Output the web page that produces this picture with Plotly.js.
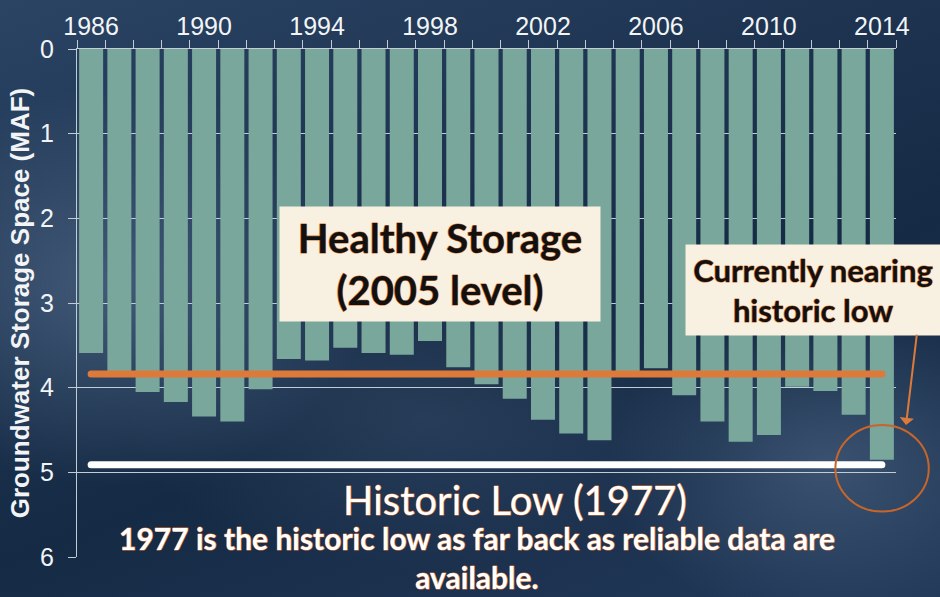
<!DOCTYPE html>
<html>
<head>
<meta charset="utf-8">
<script src="https://cdn.plot.ly/plotly-3.0.1.min.js"></script>
<style>
  html, body { margin: 0; padding: 0; }
  body {
    width: 940px; height: 597px; overflow: hidden;
    background:
      radial-gradient(ellipse 260px 200px at 12% 48%, rgba(95,122,152,0.55), rgba(95,122,152,0) 100%),
      radial-gradient(ellipse 220px 160px at 88% 78%, rgba(95,122,152,0.45), rgba(95,122,152,0) 100%),
      radial-gradient(ellipse 300px 150px at 45% 70%, rgba(70,95,125,0.35), rgba(70,95,125,0) 100%),
      linear-gradient(160deg, #2b4464 0%, #1d3350 35%, #152a44 60%, #22395a 100%);
  }
  #chart { width: 940px; height: 597px; }
  .annotation-text { paint-order: stroke fill; stroke: #d9742f; stroke-width: 1.1px; stroke-linejoin: round; }
  .scatterlayer .js-line { stroke-linecap: round; }
</style>
</head>
<body>
<div id="chart"></div>
<script>
// ---- data ----
const years = ["1986","1987","1988","1989","1990","1991","1992","1993","1994","1995",
               "1996","1997","1998","1999","2000","2001","2002","2003","2004","2005",
               "2006","2007","2008","2009","2010","2011","2012","2013","2014"];
const storageSpace = [3.59, 3.87, 4.05, 4.17, 4.34, 4.40, 4.02, 3.66, 3.68, 3.53,
                      3.59, 3.61, 3.45, 3.76, 3.96, 4.13, 4.38, 4.54, 4.62, 3.86,
                      3.77, 4.09, 4.40, 4.64, 4.56, 3.99, 4.04, 4.32, 4.85];
const labeledYears = ["1986","1990","1994","1998","2002","2006","2010","2014"];
const healthyLevel = 3.84;   // 2005 level
const historicLow = 4.91;    // 1977 level
const lineSpan = ["1986", "2014"];

const barColor = "#7aa79b";
const orange = "#dd7a3a";
const axisGrey = "#c3ccd5";

const tickText = years.map(y => labeledYears.includes(y) ? y : "");

const traces = [
  {
    type: "bar", x: years, y: storageSpace, base: 0,
    marker: { color: barColor },
    hoverinfo: "x+y", showlegend: false
  },
  {
    type: "scatter", mode: "lines", x: lineSpan, y: [healthyLevel, healthyLevel],
    line: { color: orange, width: 7 }, showlegend: false, hoverinfo: "skip"
  },
  {
    type: "scatter", mode: "lines", x: lineSpan, y: [historicLow, historicLow],
    line: { color: "#ffffff", width: 7 }, showlegend: false, hoverinfo: "skip"
  }
];

const layout = {
  width: 940, height: 597,
  margin: { l: 77, r: 44, t: 49, b: 40 },
  paper_bgcolor: "rgba(0,0,0,0)",
  plot_bgcolor: "rgba(0,0,0,0)",
  bargap: 0.15,
  showlegend: false,
  font: { family: "Liberation Sans, Arial, sans-serif", color: "#f2f4f6" },
  xaxis: {
    type: "category", side: "top",
    tickmode: "array", tickvals: years, ticktext: tickText,
    tickson: "boundaries", ticks: "outside", ticklen: 8, tickcolor: axisGrey, tickwidth: 1,
    tickangle: 0,
    showline: true, linecolor: axisGrey, linewidth: 1,
    showgrid: false, zeroline: false,
    tickfont: { size: 25, color: "#f2f4f6" },
    ticklabelstandoff: 3,
    range: [-0.5, 28.5], fixedrange: true
  },
  yaxis: {
    range: [6, 0], dtick: 1, tick0: 0,
    ticks: "outside", ticklen: 8, tickcolor: axisGrey,
    showline: true, linecolor: axisGrey, linewidth: 1,
    showgrid: true, gridcolor: axisGrey, gridwidth: 1,
    zeroline: false,
    tickfont: { size: 25, color: "#f2f4f6" },
    ticklabelstandoff: 9,
    title: { text: "Groundwater Storage Space (MAF)", font: { size: 26, color: "#f2f4f6", family: "Liberation Sans, Arial, sans-serif", weight: "bold" }, standoff: 2 },
    fixedrange: true
  },
  shapes: [
    { type: "circle", xref: "paper", yref: "paper",
      x0: 0.926, x1: 1.040, y0: 0.0894, y1: 0.2598,
      line: { color: "#c8652a", width: 2 } }
  ],
  annotations: [
    { xref: "paper", yref: "paper", x: 0.4432, y: 0.5768, xanchor: "center", yanchor: "middle",
      text: "<b>Healthy Storage<br>(2005 level)</b>", showarrow: false,
      font: { family: "Lato, sans-serif", size: 40, color: "#111111" },
      bgcolor: "#f8f0e0", width: 320, height: 114, borderpad: 0, align: "center" },
    { xref: "paper", yref: "paper", x: 0.8987, y: 0.5256, xanchor: "center", yanchor: "middle",
      text: "<b>Currently nearing<br>historic low</b>", showarrow: false,
      font: { family: "Lato, sans-serif", size: 31, color: "#111111" },
      bgcolor: "#f8f0e0", width: 254, height: 90, borderpad: 0, align: "center" },
    { xref: "paper", yref: "paper", x: 0.5348, y: 0.1122, xanchor: "center", yanchor: "middle",
      text: "Historic Low (1977)", showarrow: false,
      font: { family: "Lato, sans-serif", size: 40, color: "#ffffff" } },
    { xref: "paper", yref: "paper", x: 0.4884, y: 0.0, xanchor: "center", yanchor: "middle",
      text: "<b>1977 is the historic low as far back as reliable data are<br>available.</b>", showarrow: false,
      font: { family: "Lato, sans-serif", size: 30, color: "#ffffff" }, align: "center" },
    { xref: "paper", yref: "paper", x: 1.0122, y: 0.2598, text: "", showarrow: true,
      ax: 11, ay: -92, arrowcolor: orange, arrowwidth: 2, arrowhead: 1, arrowsize: 1.2, standoff: 0 }
  ]
};

Plotly.newPlot("chart", traces, layout, { displayModeBar: false, staticPlot: true });
</script>
</body>
</html>
